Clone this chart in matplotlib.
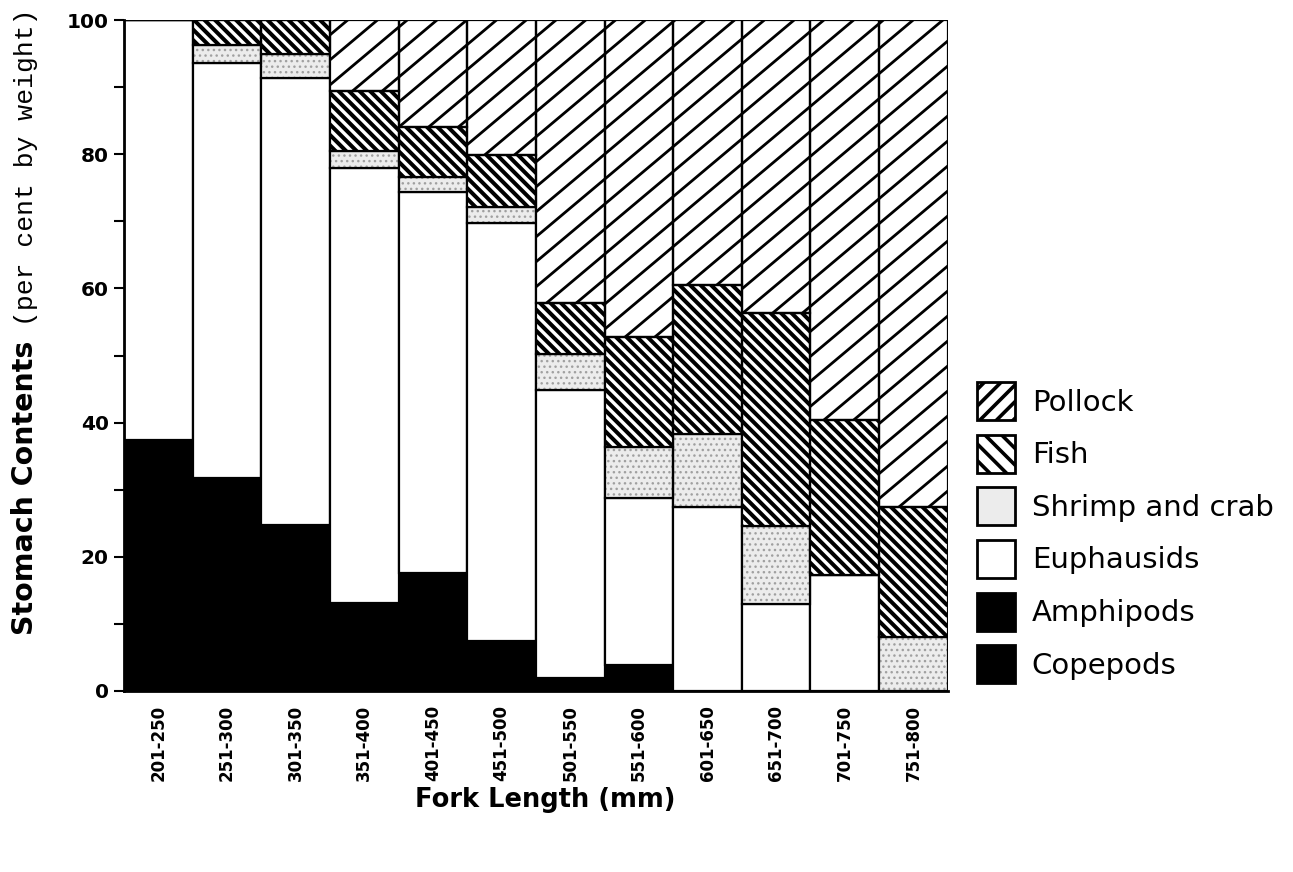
import numpy as np
import matplotlib
matplotlib.use("Agg")
import matplotlib.pyplot as plt
from matplotlib.patches import Patch
from matplotlib.collections import LineCollection
from matplotlib.transforms import IdentityTransform

# --- datos (per cent by weight) ---
fork_length = ['201-250', '251-300', '301-350', '351-400', '401-450', '451-500',
               '501-550', '551-600', '601-650', '651-700', '701-750', '751-800']
copepods    = [27.3, 27.3, 0, 0, 0, 0, 0, 0, 0, 0, 0, 0]
amphipods   = [10.1, 4.4, 24.7, 13.1, 17.6, 7.4, 1.9, 3.9, 0, 0, 0, 0]
euphausids  = [62.6, 61.9, 66.7, 64.8, 56.7, 62.4, 42.9, 24.9, 27.4, 12.9, 17.3, 0]
shrimp_crab = [0, 2.7, 3.6, 2.6, 2.3, 2.4, 5.4, 7.6, 10.9, 11.7, 0, 8.0]
fish        = [0, 3.7, 5.0, 8.9, 7.5, 7.7, 7.7, 16.3, 22.2, 31.8, 23.1, 19.4]
pollock     = [0, 0, 0, 10.6, 15.9, 20.1, 42.1, 47.3, 39.5, 43.6, 59.6, 72.6]

W, H = 1293, 872
fig = plt.figure(figsize=(W / 100, H / 100), dpi=100)
ax = fig.add_axes([0.096, 0.2076, 0.637, 0.7694])

x = np.arange(len(fork_length))
w = 1.0
lw = 1.6
bottom = np.zeros(len(x))


def hatch_segments(slope, step):
    # lineas en pixeles que cubren todo el area de los ejes
    pos = ax.get_position()
    x0, x1 = pos.x0 * W, pos.x1 * W
    y0, y1 = pos.y0 * H, pos.y1 * H
    span = abs(slope) * (x1 - x0)
    segs = []
    for off in np.arange(y0 - span - step, y1 + span + step, step):
        segs.append([(x0, off), (x1, off + slope * (x1 - x0))])
    return segs


def hatched(vals, bottom, slope, step, hlw):
    bars = ax.bar(x, vals, w, bottom=bottom, color='white', linewidth=0, zorder=1)
    segs = hatch_segments(slope, step)
    for p in bars.patches:
        if p.get_height() <= 0:
            continue
        lc = LineCollection(segs, colors='black', linewidths=hlw,
                            transform=IdentityTransform(), zorder=1.1)
        ax.add_collection(lc, autolim=False)
        lc.set_clip_path(p)  # despues de add_collection, si no se pisa
    ax.bar(x, vals, w, bottom=bottom, fill=False, edgecolor='black', linewidth=lw, zorder=1.2)


# copepods + amphipods (negro)
for vals in (copepods, amphipods):
    ax.bar(x, vals, w, bottom=bottom, color='black', edgecolor='black', linewidth=lw)
    bottom += np.array(vals)

# euphausids (blanco)
ax.bar(x, euphausids, w, bottom=bottom, color='white', edgecolor='black', linewidth=lw)
bottom += np.array(euphausids)

# shrimp and crab (punteado)
plt.rcParams['hatch.linewidth'] = 1.0
ax.bar(x, shrimp_crab, w, bottom=bottom, color='#ececec', edgecolor='#a0a0a0',
       hatch='...', linewidth=0)
ax.bar(x, shrimp_crab, w, bottom=bottom, fill=False, edgecolor='black', linewidth=lw)
bottom += np.array(shrimp_crab)

ax.set_xlim(-0.5, len(x) - 0.5)
ax.set_ylim(0, 100)

# fish (rayado denso \\\)
hatched(fish, bottom.copy(), -1.0, 10.5, 2.9)
bottom += np.array(fish)

# pollock (rayado ancho ///)
hatched(pollock, bottom.copy(), 0.84, 25, 2.0)

ax.set_yticks(np.arange(0, 101, 20))
ax.set_yticks(np.arange(10, 100, 20), minor=True)
ax.tick_params(axis='y', which='both', length=7, width=1.5, direction='out', pad=4)
ax.set_yticklabels([str(v) for v in range(0, 101, 20)], fontsize=14.5,
                   fontweight='bold', family='DejaVu Sans')
ax.set_xticks(x)
ax.set_xticklabels(fork_length, rotation=90, fontsize=12, fontweight='bold',
                   family='DejaVu Sans')
ax.tick_params(axis='x', length=0, pad=10)

for s in ('top', 'right'):
    ax.spines[s].set_visible(False)
ax.spines['left'].set_linewidth(2)
ax.spines['bottom'].set_linewidth(2)

# etiquetas de ejes
fig.text(0.0255, 1 - 635 / H, 'Stomach Contents', rotation=90, rotation_mode='anchor',
         ha='left', va='baseline', fontsize=20.5, fontweight='bold', family='DejaVu Sans')
fig.text(0.0255, 1 - 8 / H, '(per cent by weight)', rotation=90, rotation_mode='anchor',
         ha='right', va='baseline', fontsize=19, family='Liberation Mono')
fig.text(545 / W, 1 - 800 / H, 'Fork Length (mm)', ha='center', va='center',
         fontsize=18.5, fontweight='bold', family='DejaVu Sans')

# leyenda
plt.rcParams['hatch.linewidth'] = 2.6
handles = [
    Patch(facecolor='white', edgecolor='black', hatch='//', linewidth=2, label='Pollock'),
    Patch(facecolor='white', edgecolor='black', hatch='\\\\', linewidth=2, label='Fish'),
    Patch(facecolor='#ececec', edgecolor='black', linewidth=2, label='Shrimp and crab'),
    Patch(facecolor='white', edgecolor='black', linewidth=2, label='Euphausids'),
    Patch(facecolor='black', edgecolor='black', linewidth=2, label='Amphipods'),
    Patch(facecolor='black', edgecolor='black', linewidth=2, label='Copepods'),
]
fig.legend(handles=handles, loc='upper left', bbox_to_anchor=(977 / W, 1 - 382 / H),
           frameon=False, fontsize=21, handlelength=1.3, handleheight=1.63,
           handletextpad=0.58, labelspacing=0.5, borderpad=0, borderaxespad=0)

fig.savefig('out.png', dpi=100)
